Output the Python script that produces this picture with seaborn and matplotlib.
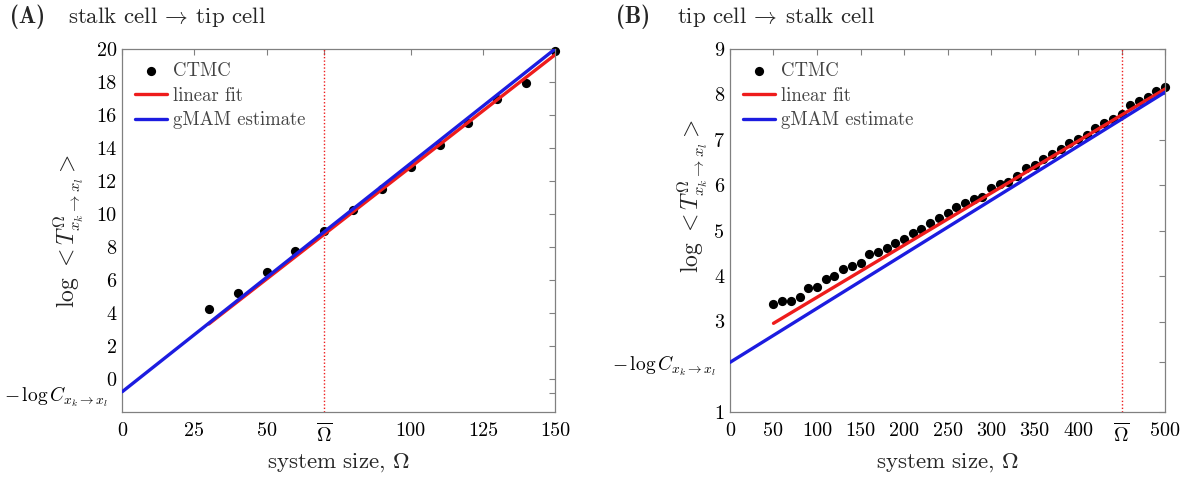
import numpy as np
import pandas as pd
import matplotlib
matplotlib.use("Agg")
import matplotlib.pyplot as plt
from matplotlib.transforms import ScaledTranslation
import seaborn as sns

# ---------------- data ----------------
# Panel A: stalk cell -> tip cell
omega_a = [30, 40, 50, 60, 70, 80, 90, 100, 110, 120, 130, 140, 150]
ctmc_a = [4.25, 5.25, 6.5, 7.75, 9.0, 10.25, 11.55, 12.85, 14.2, 15.55, 16.95, 17.95, 19.9]
fit_a_x = [30, 150]
fit_a_y = [3.35, 19.65]
gmam_a_x = [0, 150]
gmam_a_y = [-0.75, 20.0]
omega_bar_a = 70
xticks_a = [0, 25, 50, omega_bar_a, 100, 125, 150]
xticklabels_a = ["0", "25", "50", r"$\overline{\Omega}$", "100", "125", "150"]
yticks_a = [-0.8, 0, 2, 4, 6, 8, 10, 12, 14, 16, 18, 20]
yticklabels_a = [r"$-\,\log C_{x_k\to x_l}$", "0", "2", "4", "6", "8", "10", "12", "14", "16", "18", "20"]

# Panel B: tip cell -> stalk cell
omega_b = [50, 60, 70, 80, 90, 100, 110, 120, 130, 140, 150, 160, 170, 180, 190,
           200, 210, 220, 230, 240, 250, 260, 270, 280, 290, 300, 310, 320, 330,
           340, 350, 360, 370, 380, 390, 400, 410, 420, 430, 440, 450, 460, 470,
           480, 490, 500]
ctmc_b = [3.38, 3.45, 3.45, 3.55, 3.74, 3.77, 3.94, 4.01, 4.15, 4.22, 4.29, 4.48,
          4.54, 4.62, 4.72, 4.82, 4.94, 5.03, 5.17, 5.28, 5.38, 5.53, 5.60, 5.70,
          5.75, 5.95, 6.03, 6.08, 6.20, 6.39, 6.45, 6.58, 6.68, 6.79, 6.92, 7.03,
          7.11, 7.27, 7.37, 7.47, 7.57, 7.77, 7.85, 7.95, 8.07, 8.17]
fit_b_x = [50, 500]
fit_b_y = [2.96, 8.12]
gmam_b_x = [0, 500]
gmam_b_y = [2.1, 8.05]
omega_bar_b = 450
xticks_b = [0, 50, 100, 150, 200, 250, 300, 350, 400, omega_bar_b, 500]
xticklabels_b = ["0", "50", "100", "150", "200", "250", "300", "350", "400",
                 r"$\overline{\Omega}$", "500"]
yticks_b = [1, 2.1, 3, 4, 5, 6, 7, 8, 9]
yticklabels_b = ["1", r"$-\,\log C_{x_k\to x_l}$", "3", "4", "5", "6", "7", "8", "9"]

legend_labels = ["CTMC", "linear fit", "gMAM estimate"]
titles = [("(A)", r"stalk cell $\!\rightarrow\!$ tip cell"),
          ("(B)", r"tip cell $\!\rightarrow\!$ stalk cell")]
xlabel = r"system size, $\Omega$"
ylabel = r"$\log\,<T^{\Omega}_{x_k\to x_l}>$"

# ---------------- style ----------------
sns.set_style("white")
plt.rcParams["font.family"] = ["cmr10", "DejaVu Serif"]
plt.rcParams["mathtext.fontset"] = "cm"
plt.rcParams["axes.unicode_minus"] = False
plt.rcParams["axes.formatter.use_mathtext"] = True

RED = "#ee1c1c"
BLUE = "#1c1ce0"
GRAY = "#808080"

fig = plt.figure(figsize=(11.92, 4.78), dpi=100)
ax1 = fig.add_axes([0.1026, 0.1374, 0.363, 0.760])
ax2 = fig.add_axes([0.6124, 0.1374, 0.365, 0.760])


def draw(ax, xs, ys, fx, fy, gx, gy, obar, msize):
    sns.scatterplot(x=xs, y=ys, color="black", s=msize, linewidth=0, ax=ax,
                    label=legend_labels[0], clip_on=False, zorder=2)
    sns.lineplot(x=fx, y=fy, color=RED, lw=2.4, ax=ax, label=legend_labels[1], zorder=3)
    sns.lineplot(x=gx, y=gy, color=BLUE, lw=2.4, ax=ax, label=legend_labels[2], zorder=4)
    ax.axvline(obar, color=RED, ls=(0, (1, 1.5)), lw=1.0, zorder=1)


def style(ax, xt, xtl, yt, ytl, xlim, ylim):
    ax.set_xlim(*xlim)
    ax.set_ylim(*ylim)
    ax.set_xticks(xt)
    ax.set_xticklabels(xtl)
    ax.set_yticks(yt)
    ax.set_yticklabels(ytl)
    for s in ax.spines.values():
        s.set_color(GRAY)
        s.set_linewidth(0.9)
    ax.tick_params(direction="in", length=4, width=0.8, color=GRAY,
                   top=True, right=True, labelsize=14.5, labelcolor="black")
    ax.tick_params(axis="x", pad=7)
    ax.tick_params(axis="y", pad=4)
    ax.set_xlabel(xlabel, fontsize=16.5, labelpad=4)
    ax.set_ylabel(ylabel, fontsize=17)
    leg = ax.legend(loc="upper left", frameon=False, fontsize=13.5,
                    handlelength=1.7, handletextpad=0.3, labelspacing=0.35,
                    borderaxespad=0.45, borderpad=0.25)
    for t in leg.get_texts():
        t.set_color("#444444")
    # nudge the -log C label a little to the left of the other tick labels
    shift = ScaledTranslation(-6.5 / 72, 0, fig.dpi_scale_trans)
    for tick in ax.yaxis.get_major_ticks():
        if tick.label1.get_text().startswith("$-"):
            tick.label1.set_fontsize(14)
            tick.label1.set_transform(tick.label1.get_transform() + shift)


draw(ax1, omega_a, ctmc_a, fit_a_x, fit_a_y, gmam_a_x, gmam_a_y, omega_bar_a, 44)
style(ax1, xticks_a, xticklabels_a, yticks_a, yticklabels_a, (0, 150), (-2, 20))
ax1.yaxis.set_label_coords(-0.085, 0.5)

draw(ax2, omega_b, ctmc_b, fit_b_x, fit_b_y, gmam_b_x, gmam_b_y, omega_bar_b, 44)
style(ax2, xticks_b, xticklabels_b, yticks_b, yticklabels_b, (0, 500), (1, 9))
ax2.yaxis.set_label_coords(-0.045, 0.595)

# panel titles
for (lab, txt), x0, x1 in zip(titles, [0.008, 0.517], [0.057, 0.568]):
    fig.text(x0, 0.952, lab, fontsize=16.5, va="baseline", ha="left",
             family=["cmb10", "DejaVu Serif"])
    fig.text(x1, 0.952, txt, fontsize=16.5, va="baseline", ha="left")

fig.savefig("out.png", dpi=100)
